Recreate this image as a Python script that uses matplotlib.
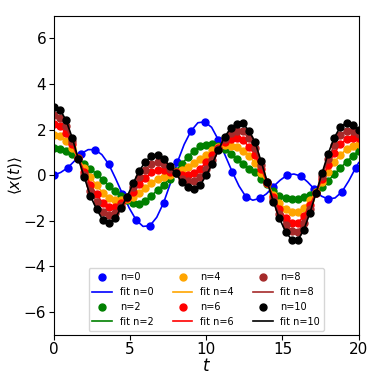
import numpy as np
import matplotlib
matplotlib.use("Agg")
import matplotlib.pyplot as plt

# sample times
t_dots = np.linspace(0, 20, 51)        # step 0.4
t_n0 = np.linspace(0, 19.8, 23)        # step 0.9
t_fit0 = [0.0, 0.45, 0.9, 1.35, 1.8, 2.25, 2.7, 3.15, 3.6, 4.05, 4.5, 4.95, 5.4,
          5.85, 6.3, 6.75, 7.2, 7.65, 8.1, 8.55, 9.0, 9.45, 9.9, 10.35, 10.8,
          11.25, 11.7, 12.15, 12.6, 13.05, 13.5, 13.95, 14.4, 14.85, 15.3, 15.75,
          16.2, 16.65, 17.1, 17.55, 18.0, 18.45, 18.9, 19.35, 19.8, 20.0]

x_n0 = [0.00, 0.32, 0.95, 1.12, 0.48, -0.82, -1.97, -2.22, -1.21, 0.56, 1.94, 2.34,
        1.54, 0.15, -0.95, -1.02, -0.50, 0.00, -0.04, -0.62, -1.05, -0.73, 0.32]
fit_n0 = [0.00, 0.12, 0.32, 0.62, 0.95, 1.12, 1.12, 0.90, 0.48, -0.15, -0.82, -1.45,
          -1.97, -2.25, -2.22, -1.85, -1.21, -0.35, 0.56, 1.35, 1.94, 2.30, 2.34,
          2.10, 1.54, 0.85, 0.15, -0.48, -0.95, -1.10, -1.02, -0.82, -0.50, -0.22,
          0.00, 0.05, -0.04, -0.30, -0.62, -0.92, -1.05, -1.00, -0.73, -0.25, 0.32, 0.55]

x_n2 = [1.20, 1.15, 1.08, 0.95, 0.76, 0.50, 0.28, 0.05, -0.22, -0.47, -0.69, -0.90,
        -1.08, -1.22, -1.25, -1.12, -0.90, -0.66, -0.42, -0.15, 0.17, 0.50, 0.80,
        1.07, 1.27, 1.33, 1.37, 1.30, 1.15, 0.95, 0.73, 0.51, 0.29, 0.12, -0.15,
        -0.40, -0.70, -0.90, -1.02, -1.05, -1.05, -0.98, -0.86, -0.72, -0.52, -0.25,
        0.05, 0.32, 0.58, 0.83, 1.08]
x_n4 = [1.78, 1.70, 1.51, 1.17, 0.75, 0.31, -0.10, -0.44, -0.77, -0.99, -1.08, -1.08,
        -1.04, -0.94, -0.79, -0.58, -0.34, -0.16, -0.06, 0.02, 0.14, 0.24, 0.37,
        0.54, 0.72, 0.90, 1.09, 1.24, 1.32, 1.30, 1.22, 1.07, 0.82, 0.55, 0.09,
        -0.36, -0.85, -1.22, -1.49, -1.62, -1.63, -1.43, -1.11, -0.75, -0.32, 0.13,
        0.56, 0.90, 1.13, 1.27, 1.37]
x_n6 = [2.24, 2.15, 1.85, 1.36, 0.74, 0.15, -0.42, -0.84, -1.22, -1.41, -1.39, -1.22,
        -1.00, -0.72, -0.41, -0.13, 0.12, 0.24, 0.23, 0.16, 0.12, 0.02, 0.02,
        0.10, 0.28, 0.56, 0.87, 1.18, 1.46, 1.59, 1.61, 1.53, 1.25, 0.89, 0.29,
        -0.34, -0.97, -1.48, -1.87, -2.08, -2.10, -1.80, -1.32, -0.77, -0.16, 0.45,
        0.98, 1.36, 1.57, 1.64, 1.61]
x_n8 = [2.64, 2.53, 2.14, 1.51, 0.74, 0.02, -0.68, -1.18, -1.60, -1.77, -1.66, -1.35,
        -0.98, -0.53, -0.10, 0.24, 0.50, 0.59, 0.48, 0.28, 0.10, -0.16, -0.27,
        -0.27, -0.10, 0.27, 0.68, 1.14, 1.57, 1.83, 1.95, 1.92, 1.62, 1.18, 0.45,
        -0.31, -1.08, -1.70, -2.19, -2.47, -2.50, -2.12, -1.49, -0.78, -0.02, 0.71,
        1.33, 1.76, 1.95, 1.94, 1.82]
x_n10 = [3.00, 2.88, 2.41, 1.65, 0.73, -0.10, -0.92, -1.49, -1.95, -2.09, -1.90, -1.46,
         -0.95, -0.36, 0.19, 0.58, 0.85, 0.90, 0.70, 0.39, 0.08, -0.32, -0.54,
         -0.60, -0.44, 0.00, 0.51, 1.10, 1.68, 2.05, 2.25, 2.27, 1.95, 1.45, 0.60,
         -0.29, -1.17, -1.90, -2.48, -2.83, -2.86, -2.40, -1.65, -0.80, 0.10, 0.95,
         1.65, 2.12, 2.29, 2.22, 2.00]

labels = ["n=0", "n=2", "n=4", "n=6", "n=8", "n=10"]
colors = ["blue", "green", "orange", "red", "brown", "black"]

fig = plt.figure(figsize=(3.82, 3.82), dpi=100)
ax = fig.add_axes([0.141, 0.124, 0.798, 0.835])

# n=0 has its own sampling
ax.plot(t_n0, x_n0, "o", color=colors[0], ms=5, label=labels[0])
ax.plot(t_fit0, fit_n0, "-", color=colors[0], lw=1.2, label="fit " + labels[0])

series = [x_n2, x_n4, x_n6, x_n8, x_n10]
for ys, lab, c in zip(series, labels[1:], colors[1:]):
    ax.plot(t_dots, ys, "o", color=c, ms=5, label=lab)
    ax.plot(t_dots, ys, "-", color=c, lw=1.2, label="fit " + lab)

ax.set_xlim(0, 20)
ax.set_ylim(-7, 7)
ax.set_xticks([0, 5, 10, 15, 20])
ax.set_yticks([-6, -4, -2, 0, 2, 4, 6])
ax.tick_params(labelsize=11, pad=2)
ax.set_xlabel(r"$t$", fontsize=12, labelpad=0)
ax.set_ylabel(r"$\langle x(t) \rangle$", fontsize=11, labelpad=0)
ax.legend(loc="lower center", ncol=3, fontsize=7, borderaxespad=0.4)

fig.savefig("out.png", dpi=100)
